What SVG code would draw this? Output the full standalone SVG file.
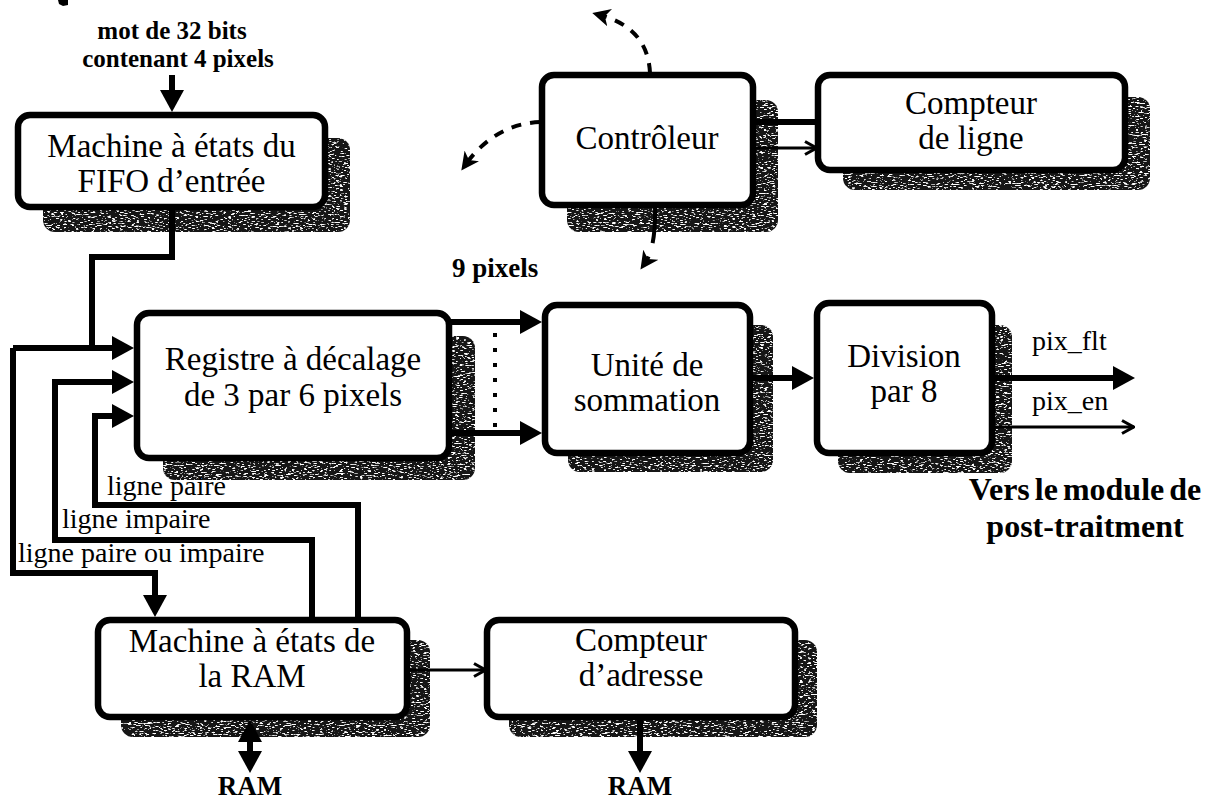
<svg xmlns="http://www.w3.org/2000/svg" width="1224" height="800" viewBox="0 0 1224 800">
  <defs>
    <style>
      .box { fill:#fff; stroke:#000; stroke-width:6.5; }
      .shadow { fill:#141414; filter:url(#grain); }
      .lbl { font-family:"Liberation Serif","Times New Roman",serif; font-size:33px; text-anchor:middle; fill:#000; }
      .note { font-family:"Liberation Serif","Times New Roman",serif; font-size:28px; fill:#000; }
      .bold { font-family:"Liberation Serif","Times New Roman",serif; font-weight:bold; fill:#000; }
      .wire { fill:none; stroke:#000; stroke-width:6; stroke-linejoin:miter; }
      .thin { fill:none; stroke:#000; stroke-width:3; }
      .dash { fill:none; stroke:#000; stroke-width:4; stroke-dasharray:10 9; }
    </style>
    <!-- speckled texture for the drop shadows -->
    <filter id="grain" x="-5%" y="-5%" width="110%" height="110%">
      <feTurbulence type="fractalNoise" baseFrequency="0.25 0.9" numOctaves="2" seed="7" result="noise"/>
      <feColorMatrix in="noise" type="matrix" values="0 0 0 0 1  0 0 0 0 1  0 0 0 0 1  9 0 0 0 -5.2" result="specks"/>
      <feComposite in="specks" in2="SourceAlpha" operator="in" result="clipped"/>
      <feMerge><feMergeNode in="SourceGraphic"/><feMergeNode in="clipped"/></feMerge>
    </filter>
    <!-- solid head for the thick buses -->
    <marker id="head" viewBox="0 0 22 24" refX="12" refY="12" markerWidth="22" markerHeight="24" orient="auto-start-reverse" markerUnits="userSpaceOnUse">
      <path d="M0,0 L22,12 L0,24 z" fill="#000"/>
    </marker>
    <!-- open chevron for single control lines -->
    <marker id="open" viewBox="0 0 14 16" refX="13" refY="8" markerWidth="14" markerHeight="16" orient="auto" markerUnits="userSpaceOnUse">
      <path d="M1,1.5 L12.5,8 L1,14.5" fill="none" stroke="#000" stroke-width="3"/>
    </marker>
    <!-- barbed head for the controller's dashed signals -->
    <marker id="barb" viewBox="0 0 18 18" refX="10" refY="9" markerWidth="18" markerHeight="18" orient="auto" markerUnits="userSpaceOnUse">
      <path d="M0,0 L18,9 L0,18 L5,9 z" fill="#000"/>
    </marker>
  </defs>

  <rect width="1224" height="800" fill="#fff"/>

  <!-- stray mark at the top edge -->
  <path d="M58,0 L68,0 L68,5 L63,6 L59,4 z" fill="#000"/>

  <!-- nodes -->
  <g id="fifo">
    <rect class="shadow" x="43" y="138" width="307" height="94" rx="12"/>
    <rect class="box" x="18" y="115" width="307" height="92" rx="12"/>
    <text class="lbl" x="171.5" y="157">Machine à états du</text>
    <text class="lbl" x="171.5" y="192">FIFO d’entrée</text>
  </g>

  <g id="controleur">
    <rect class="shadow" x="567" y="100" width="211" height="132" rx="12"/>
    <rect class="box" x="542" y="75" width="211" height="130" rx="12"/>
    <text class="lbl" x="647" y="149">Contrôleur</text>
  </g>

  <g id="compteur-ligne">
    <rect class="shadow" x="843" y="97" width="307" height="93" rx="12"/>
    <rect class="box" x="818" y="75" width="307" height="95" rx="12"/>
    <text class="lbl" x="971" y="114">Compteur</text>
    <text class="lbl" x="971" y="149">de ligne</text>
  </g>

  <g id="registre">
    <rect class="shadow" x="163" y="336" width="312" height="144" rx="12"/>
    <rect class="box" x="137" y="313" width="312" height="145" rx="12"/>
    <text class="lbl" x="293" y="370">Registre à décalage</text>
    <text class="lbl" x="293" y="406">de 3 par 6 pixels</text>
  </g>

  <g id="sommation">
    <rect class="shadow" x="568" y="325" width="205" height="147" rx="12"/>
    <rect class="box" x="545" y="305" width="205" height="148" rx="12"/>
    <text class="lbl" x="647" y="376">Unité de</text>
    <text class="lbl" x="647" y="411">sommation</text>
  </g>

  <g id="division">
    <rect class="shadow" x="838" y="325" width="174" height="148" rx="12"/>
    <rect class="box" x="817" y="303" width="175" height="150" rx="12"/>
    <text class="lbl" x="904" y="367">Division</text>
    <text class="lbl" x="904" y="402">par 8</text>
  </g>

  <g id="machine-ram">
    <rect class="shadow" x="121" y="640" width="309" height="97" rx="12"/>
    <rect class="box" x="98" y="620" width="309" height="97" rx="12"/>
    <text class="lbl" x="252" y="652">Machine à états de</text>
    <text class="lbl" x="252" y="687">la RAM</text>
  </g>

  <g id="compteur-adresse">
    <rect class="shadow" x="509" y="640" width="308" height="97" rx="12"/>
    <rect class="box" x="487" y="620" width="308" height="97" rx="12"/>
    <text class="lbl" x="641" y="651">Compteur</text>
    <text class="lbl" x="641" y="686">d’adresse</text>
  </g>

  <!-- connectors -->
  <g id="connectors">
    <!-- 32-bit input word -->
    <path class="wire" d="M172,75 V102" marker-end="url(#head)"/>
    <!-- FIFO output onto the pixel bus -->
    <path class="wire" d="M172,207 V257 H92 V348"/>
    <!-- pixel bus: to the register and to the RAM machine -->
    <path class="wire" d="M13,348 H124" marker-end="url(#head)"/>
    <path class="wire" d="M13,348 V573 H155 V607" marker-end="url(#head)"/>
    <!-- odd line from RAM -->
    <path class="wire" d="M312,620 V540 H55 V382 H124" marker-end="url(#head)"/>
    <!-- even line from RAM -->
    <path class="wire" d="M358,620 V505 H95 V416 H124" marker-end="url(#head)"/>
    <!-- 9 pixels to the adder -->
    <path class="wire" d="M449,322 H532" marker-end="url(#head)"/>
    <path class="wire" d="M449,433 H532" marker-end="url(#head)"/>
    <path d="M495,333 V428" fill="none" stroke="#000" stroke-width="4" stroke-dasharray="4 11"/>
    <!-- adder to divider -->
    <path class="wire" d="M750,378 H804" marker-end="url(#head)"/>
    <!-- outputs -->
    <path class="wire" d="M992,378 H1125" marker-end="url(#head)"/>
    <path class="thin" d="M992,427 H1134" marker-end="url(#open)"/>
    <!-- controller to line counter -->
    <path class="wire" d="M753,122 H818"/>
    <path class="thin" d="M753,148 H817" marker-end="url(#open)"/>
    <!-- RAM machine to address counter -->
    <path class="thin" d="M407,670 H486" marker-end="url(#open)"/>
    <!-- RAM data and address -->
    <path class="wire" d="M250,730 V763" marker-start="url(#head)" marker-end="url(#head)"/>
    <path class="wire" d="M640,717 V763" marker-end="url(#head)"/>
    <!-- controller control signals -->
    <path class="dash" d="M650,73 Q648,28 600,15" marker-end="url(#barb)"/>
    <path class="dash" d="M540,122 Q495,124 466,164" marker-end="url(#barb)"/>
    <path d="M655,207 Q656,247 645,263" fill="none" stroke="#000" stroke-width="4" stroke-dasharray="36 14 100" marker-end="url(#barb)"/>
  </g>

  <!-- labels -->
  <g id="labels">
    <text class="bold" x="172" y="39" font-size="25" text-anchor="middle">mot de 32 bits</text>
    <text class="bold" x="178" y="67" font-size="25" text-anchor="middle">contenant 4 pixels</text>
    <text class="bold" x="452" y="277" font-size="27">9 pixels</text>
    <text class="note" x="1032" y="350" font-size="25">pix_flt</text>
    <text class="note" x="1032" y="410" font-size="25">pix_en</text>
    <text class="bold" x="1085" y="500" font-size="32" text-anchor="middle" word-spacing="-3">Vers le module de</text>
    <text class="bold" x="1085" y="537" font-size="32" text-anchor="middle">post-traitment</text>
    <text class="note" x="107" y="495">ligne paire</text>
    <text class="note" x="62" y="528">ligne impaire</text>
    <text class="note" x="18" y="562">ligne paire ou impaire</text>
    <text class="bold" x="250" y="795" font-size="27" text-anchor="middle">RAM</text>
    <text class="bold" x="640" y="795" font-size="27" text-anchor="middle">RAM</text>
  </g>
</svg>
